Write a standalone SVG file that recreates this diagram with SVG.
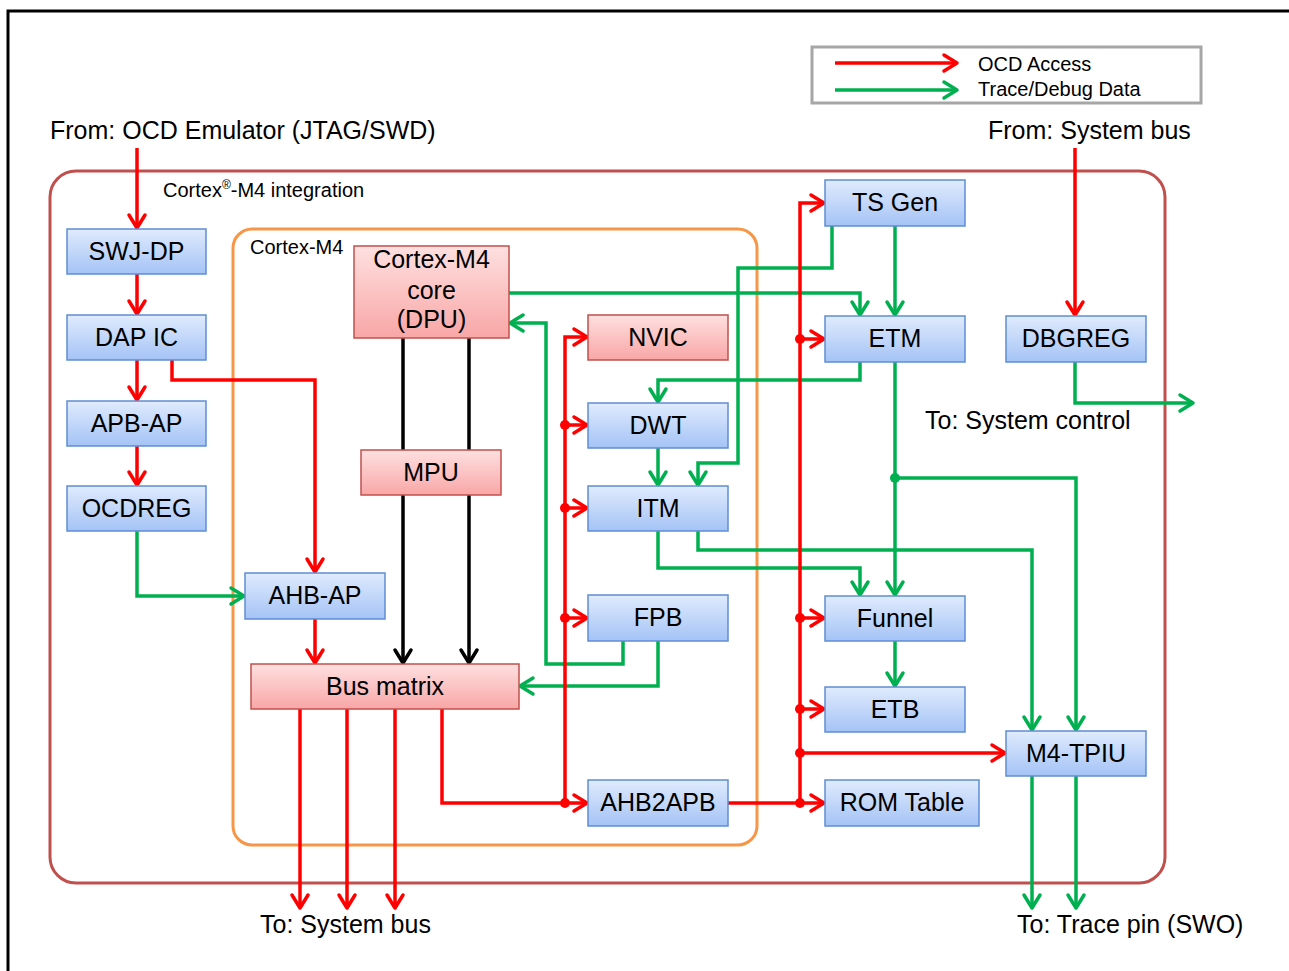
<svg xmlns="http://www.w3.org/2000/svg" width="1289" height="971" viewBox="0 0 1289 971">
<style>
text{font-family:"Liberation Sans",Arial,sans-serif;fill:#000}
.lg{font-size:25px}
.sm{font-size:20px}
.nt{font-size:25px;text-anchor:middle}
.bn{fill:url(#gB);stroke:#5f8dd3;stroke-width:1.5}
.pn{fill:url(#gP);stroke:#c0504d;stroke-width:1.5}
.r{fill:none;stroke:#ff0000;stroke-width:3.5;marker-end:url(#aR)}
.g{fill:none;stroke:#00b050;stroke-width:3.5;marker-end:url(#aG)}
.k{fill:none;stroke:#000;stroke-width:3.5;marker-end:url(#aK)}
.dr{fill:#ff0000}
.dg{fill:#00b050}
</style>
<defs>
<linearGradient id="gB" x1="0" y1="0" x2="0" y2="1"><stop offset="0" stop-color="#e0ebfd"/><stop offset="1" stop-color="#a4c3f6"/></linearGradient>
<linearGradient id="gP" x1="0" y1="0" x2="0" y2="1"><stop offset="0" stop-color="#fee0e0"/><stop offset="1" stop-color="#f9a6a6"/></linearGradient>
<marker id="aR" markerUnits="userSpaceOnUse" markerWidth="20" markerHeight="22" viewBox="0 0 20 22" refX="16" refY="11" orient="auto"><path d="M3,3 L16,11 L3,19" fill="none" stroke="#ff0000" stroke-width="3.5" stroke-linecap="round" stroke-linejoin="round"/></marker>
<marker id="aG" markerUnits="userSpaceOnUse" markerWidth="20" markerHeight="22" viewBox="0 0 20 22" refX="16" refY="11" orient="auto"><path d="M3,3 L16,11 L3,19" fill="none" stroke="#00b050" stroke-width="3.5" stroke-linecap="round" stroke-linejoin="round"/></marker>
<marker id="aK" markerUnits="userSpaceOnUse" markerWidth="20" markerHeight="22" viewBox="0 0 20 22" refX="16" refY="11" orient="auto"><path d="M3,3 L16,11 L3,19" fill="none" stroke="#000" stroke-width="3.5" stroke-linecap="round" stroke-linejoin="round"/></marker>
</defs>
<rect x="0" y="0" width="1289" height="971" fill="#fff"/>
<rect x="8" y="11" width="1320" height="1000" fill="none" stroke="#000" stroke-width="3"/>

<g id="legend">
<rect x="812" y="47" width="389" height="56" fill="#fff" stroke="#a6a6a6" stroke-width="3"/>
<path class="r" d="M835,63 H957"/>
<path class="g" d="M835,90 H957"/>
<text class="sm" x="978" y="71">OCD Access</text>
<text class="sm" x="978" y="96">Trace/Debug Data</text>
</g>

<g id="integration">
<rect x="50" y="171" width="1115" height="712" rx="26" ry="26" fill="none" stroke="#c0504d" stroke-width="3"/>
<text class="sm" x="163" y="197">Cortex<tspan font-size="12" dy="-8">®</tspan><tspan dy="8">-M4 integration</tspan></text>
</g>
<g id="cortex-m4">
<rect x="233" y="229" width="524" height="616" rx="19" ry="19" fill="none" stroke="#f79646" stroke-width="3"/>
<text class="sm" x="250" y="254">Cortex-M4</text>
</g>

<g id="labels">
<text class="lg" x="50" y="139">From: OCD Emulator (JTAG/SWD)</text>
<text class="lg" x="988" y="139">From: System bus</text>
<text class="lg" x="925" y="429">To: System control</text>
<text class="lg" x="260" y="933">To: System bus</text>
<text class="lg" x="1017" y="933">To: Trace pin (SWO)</text>
</g>

<g id="connectors">
<path class="g" d="M509,293 H860 V315"/>
<path class="g" d="M895,226 V315"/>
<path class="g" d="M832,226 V268 H738 V463 H698 V485"/>
<path class="g" d="M860,362 V380 H658 V402"/>
<path class="g" d="M658,448 V485"/>
<path class="g" d="M623,641 V664 H546 V323 H510"/>
<path class="g" d="M658,641 V686 H520"/>
<path class="g" d="M658,531 V568 H860 V595"/>
<path class="g" d="M698,531 V550 H1032 V730"/>
<path class="g" d="M895,362 V595"/>
<path class="g" d="M895,478 H1076 V730"/>
<circle class="dg" cx="895" cy="478" r="5"/>
<path class="g" d="M895,641 V686"/>
<path class="g" d="M1032,776 V908"/>
<path class="g" d="M1076,776 V908"/>
<path class="g" d="M1075,362 V403 H1193"/>
<path class="g" d="M137,531 V596 H244"/>
<path class="r" d="M137,148 V228"/>
<path class="r" d="M137,274 V314"/>
<path class="r" d="M137,360 V400"/>
<path class="r" d="M137,446 V485"/>
<path class="r" d="M172,360 V380 H315 V572"/>
<path class="r" d="M315,619 V663"/>
<path class="r" d="M300,709 V908"/>
<path class="r" d="M347,709 V908"/>
<path class="r" d="M395,709 V908"/>
<path class="r" d="M442,709 V803 H587"/>
<path class="r" d="M565,803 V337 H587"/>
<path class="r" d="M565,425 H587"/>
<path class="r" d="M565,508 H587"/>
<path class="r" d="M565,618 H587"/>
<circle class="dr" cx="565" cy="425" r="5"/>
<circle class="dr" cx="565" cy="508" r="5"/>
<circle class="dr" cx="565" cy="618" r="5"/>
<circle class="dr" cx="565" cy="803" r="5"/>
<path class="r" d="M728,803 H824"/>
<path class="r" d="M800,803 V203 H824"/>
<path class="r" d="M800,339 H824"/>
<path class="r" d="M800,618 H824"/>
<path class="r" d="M800,709 H824"/>
<path class="r" d="M800,753 H1005"/>
<circle class="dr" cx="800" cy="339" r="5"/>
<circle class="dr" cx="800" cy="618" r="5"/>
<circle class="dr" cx="800" cy="709" r="5"/>
<circle class="dr" cx="800" cy="753" r="5"/>
<circle class="dr" cx="800" cy="803" r="5"/>
<path class="r" d="M1075,148 V315"/>
<path class="k" d="M403,338 V663"/>
<path class="k" d="M469,338 V663"/>
</g>

<g id="swj-dp"><rect class="bn" x="67" y="229" width="139" height="45"/><text class="nt" x="136.5" y="260">SWJ-DP</text></g>
<g id="dap-ic"><rect class="bn" x="67" y="315" width="139" height="45"/><text class="nt" x="136.5" y="346">DAP IC</text></g>
<g id="apb-ap"><rect class="bn" x="67" y="401" width="139" height="45"/><text class="nt" x="136.5" y="432">APB-AP</text></g>
<g id="ocdreg"><rect class="bn" x="67" y="486" width="139" height="45"/><text class="nt" x="136.5" y="517">OCDREG</text></g>
<g id="ahb-ap"><rect class="bn" x="245" y="573" width="140" height="46"/><text class="nt" x="315" y="604">AHB-AP</text></g>
<g id="bus-matrix"><rect class="pn" x="251" y="664" width="268" height="45"/><text class="nt" x="385" y="695">Bus matrix</text></g>
<g id="core"><rect class="pn" x="354" y="246" width="155" height="92"/><text class="nt" x="431.5" y="268">Cortex-M4</text><text class="nt" x="431.5" y="299">core</text><text class="nt" x="431.5" y="328">(DPU)</text></g>
<g id="mpu"><rect class="pn" x="361" y="450" width="140" height="45"/><text class="nt" x="431" y="481">MPU</text></g>
<g id="nvic"><rect class="pn" x="588" y="315" width="140" height="45"/><text class="nt" x="658" y="346">NVIC</text></g>
<g id="dwt"><rect class="bn" x="588" y="403" width="140" height="45"/><text class="nt" x="658" y="434">DWT</text></g>
<g id="itm"><rect class="bn" x="588" y="486" width="140" height="45"/><text class="nt" x="658" y="517">ITM</text></g>
<g id="fpb"><rect class="bn" x="588" y="595" width="140" height="46"/><text class="nt" x="658" y="626">FPB</text></g>
<g id="ahb2apb"><rect class="bn" x="588" y="780" width="140" height="46"/><text class="nt" x="658" y="811">AHB2APB</text></g>
<g id="ts-gen"><rect class="bn" x="825" y="180" width="140" height="46"/><text class="nt" x="895" y="211">TS Gen</text></g>
<g id="etm"><rect class="bn" x="825" y="316" width="140" height="46"/><text class="nt" x="895" y="347">ETM</text></g>
<g id="dbgreg"><rect class="bn" x="1006" y="316" width="140" height="46"/><text class="nt" x="1076" y="347">DBGREG</text></g>
<g id="funnel"><rect class="bn" x="825" y="596" width="140" height="45"/><text class="nt" x="895" y="627">Funnel</text></g>
<g id="etb"><rect class="bn" x="825" y="687" width="140" height="45"/><text class="nt" x="895" y="718">ETB</text></g>
<g id="m4-tpiu"><rect class="bn" x="1006" y="731" width="140" height="45"/><text class="nt" x="1076" y="762">M4-TPIU</text></g>
<g id="rom-table"><rect class="bn" x="825" y="780" width="154" height="46"/><text class="nt" x="902" y="811">ROM Table</text></g>
</svg>
